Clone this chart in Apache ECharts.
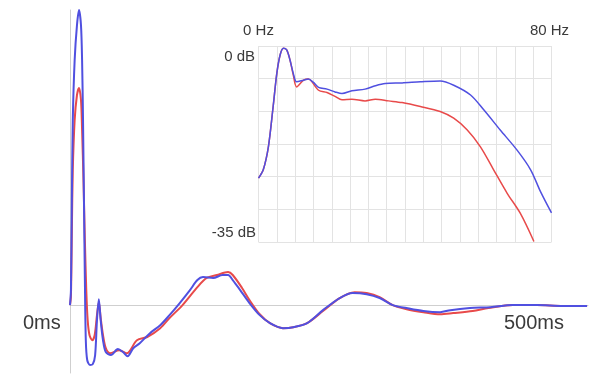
<!DOCTYPE html>
<html>
<head>
<meta charset="utf-8">
<script src="https://cdn.jsdelivr.net/npm/echarts@6/dist/echarts.min.js"></script>
<style>
html,body{margin:0;padding:0;background:#fff;}
#c{width:592px;height:374px;}
</style>
</head>
<body>
<div id="c"></div>
<script>
// Main impulse response (time in ms, relative amplitude)
const blueTime = [0,1,2,3,5,7.5,9.7,11.8,13,14,15,16,17,18.5,21.5,24.5,27,29,31,33,35.5,38.5,44,51.5,57,62,68,75,86,97,107,118,129,137,143,154,164,170,175,183,193,204,215,229,240,255,272,290,304,319,333,347,362,380,398,409,430,452,476,502,530,556];
const blueValue = [0,0.05,0.356,0.627,0.83,0.949,1.0,0.949,0.83,0.627,0.356,0.085,-0.119,-0.186,-0.203,-0.2,-0.17,-0.051,0.02,-0.051,-0.119,-0.159,-0.169,-0.149,-0.159,-0.173,-0.146,-0.129,-0.095,-0.068,-0.034,0.007,0.051,0.085,0.095,0.092,0.102,0.102,0.085,0.051,0.007,-0.034,-0.061,-0.078,-0.075,-0.061,-0.017,0.024,0.041,0.037,0.024,0,-0.010,-0.020,-0.024,-0.017,-0.010,-0.007,0,0,-0.003,-0.003];
const redTime = [0,1,2,3,5,7.5,9.7,11.8,13,14.5,16,17.5,19,21,24,26.5,29,31,33,35.5,38.5,43,53,61,72,83,97,107,121,137,147,158,170,175,185,193,204,215,229,240,255,272,290,306,319,333,347,362,380,398,412,433,450,476,502,530,556];
const redValue = [0,0.03,0.254,0.458,0.627,0.712,0.736,0.695,0.593,0.424,0.22,0.051,-0.051,-0.102,-0.119,-0.102,-0.034,0.01,-0.044,-0.102,-0.146,-0.163,-0.153,-0.163,-0.119,-0.108,-0.078,-0.044,0,0.061,0.092,0.102,0.112,0.102,0.058,0.017,-0.031,-0.061,-0.078,-0.075,-0.061,-0.02,0.024,0.044,0.041,0.027,0,-0.014,-0.024,-0.031,-0.027,-0.02,-0.01,0,0,-0.003,-0.003];

// Inset frequency response (Hz, dB)
const blueFreq = [0,1.3,2.7,4.0,5.0,5.9,6.8,7.7,8.6,9.5,10.4,12.3,13.6,15,16.4,18.7,20.9,22.8,25.5,29.1,31.9,34.6,39.2,44.2,49.6,53.3,57.9,61.5,66,70.6,74.3,77,80];
const blueDb = [-23.6,-22.1,-18,-10.8,-4.9,-1.6,-0.4,-0.7,-2.5,-4.9,-6.4,-6.1,-5.9,-6.5,-7.4,-7.7,-8.2,-8.5,-8.0,-7.7,-7.1,-6.7,-6.6,-6.4,-6.25,-7.0,-8.75,-11.4,-15,-18.6,-22.1,-26,-29.8];
const redFreq = [0,1.3,2.7,4.0,5.0,5.9,6.8,7.7,8.6,9.5,10.4,12.3,13.6,16.4,18.7,20.9,22.8,25.5,29.1,31.9,35.5,39.2,44.2,49.6,53.3,57,60.6,64.2,67.9,71.5,75.2];
const redDb = [-23.6,-22.1,-18,-10.8,-4.9,-1.6,-0.4,-0.7,-2.5,-5.2,-7.3,-6.1,-5.9,-7.9,-8.3,-9.0,-9.6,-9.5,-9.8,-9.5,-9.8,-10.1,-10.8,-11.7,-12.9,-15,-18,-22.1,-26.3,-29.9,-34.9];

// Labels
const timeLabels = ['0ms', '500ms'];
const freqLabels = ['0 Hz', '80 Hz'];
const dbLabels = ['0 dB', '-35 dB'];

const zip = (a, b) => a.map((v, i) => [v, b[i]]);
const BLUE = '#5050e0';
const RED = '#e84a4a';
const FONT = 'Liberation Sans, Arial, sans-serif';

const chart = echarts.init(document.getElementById('c'));
chart.setOption({
  animation: false,
  backgroundColor: '#fff',
  grid: [
    {left: 70, top: 10, right: 4, height: 363},
    {left: 258.5, top: 46, width: 293, height: 196}
  ],
  xAxis: [
    {gridIndex: 0, type: 'value', min: 0, max: 557,
     axisLine: {show: true, onZero: true, lineStyle: {color: '#cfcfcf', width: 1}},
     axisTick: {show: false}, axisLabel: {show: false}, splitLine: {show: false}},
    {gridIndex: 1, type: 'value', min: 0, max: 80, interval: 5,
     axisLine: {show: false}, axisTick: {show: false}, axisLabel: {show: false},
     splitLine: {show: true, showMinLine: true, showMaxLine: true, lineStyle: {color: '#e3e3e3', width: 1}}}
  ],
  yAxis: [
    {gridIndex: 0, type: 'value', min: -0.23, max: 1.0,
     axisLine: {show: true, onZero: false, lineStyle: {color: '#cfcfcf', width: 1}},
     axisTick: {show: false}, axisLabel: {show: false}, splitLine: {show: false}},
    {gridIndex: 1, type: 'value', min: -35, max: 0, interval: 35 / 6,
     axisLine: {show: false}, axisTick: {show: false}, axisLabel: {show: false},
     splitLine: {show: true, showMinLine: true, showMaxLine: true, lineStyle: {color: '#e3e3e3', width: 1}}}
  ],
  series: [
    {type: 'line', xAxisIndex: 0, yAxisIndex: 0, data: zip(redTime, redValue), showSymbol: false, smooth: 0.3,
     lineStyle: {color: RED, width: 2}, z: 2},
    {type: 'line', xAxisIndex: 0, yAxisIndex: 0, data: zip(blueTime, blueValue), showSymbol: false, smooth: 0.3,
     lineStyle: {color: BLUE, width: 2}, z: 3},
    {type: 'line', xAxisIndex: 1, yAxisIndex: 1, data: zip(redFreq, redDb), showSymbol: false, smooth: 0.3,
     lineStyle: {color: RED, width: 1.5}, z: 2},
    {type: 'line', xAxisIndex: 1, yAxisIndex: 1, data: zip(blueFreq, blueDb), showSymbol: false, smooth: 0.3,
     lineStyle: {color: BLUE, width: 1.5}, z: 3}
  ],
  graphic: [
    {type: 'text', left: 23, top: 313, style: {text: timeLabels[0], font: '20px ' + FONT, fill: '#3a3a3a'}},
    {type: 'text', left: 504, top: 313, style: {text: timeLabels[1], font: '20px ' + FONT, fill: '#3a3a3a'}},
    {type: 'text', x: 258.5, y: 31, style: {text: freqLabels[0], font: '15px ' + FONT, fill: '#3a3a3a', align: 'center', verticalAlign: 'middle'}},
    {type: 'text', x: 549.5, y: 31, style: {text: freqLabels[1], font: '15px ' + FONT, fill: '#3a3a3a', align: 'center', verticalAlign: 'middle'}},
    {type: 'text', x: 255, y: 57, style: {text: dbLabels[0], font: '15px ' + FONT, fill: '#3a3a3a', align: 'right', verticalAlign: 'middle'}},
    {type: 'text', x: 256, y: 233, style: {text: dbLabels[1], font: '15px ' + FONT, fill: '#3a3a3a', align: 'right', verticalAlign: 'middle'}}
  ]
});
</script>
</body>
</html>
